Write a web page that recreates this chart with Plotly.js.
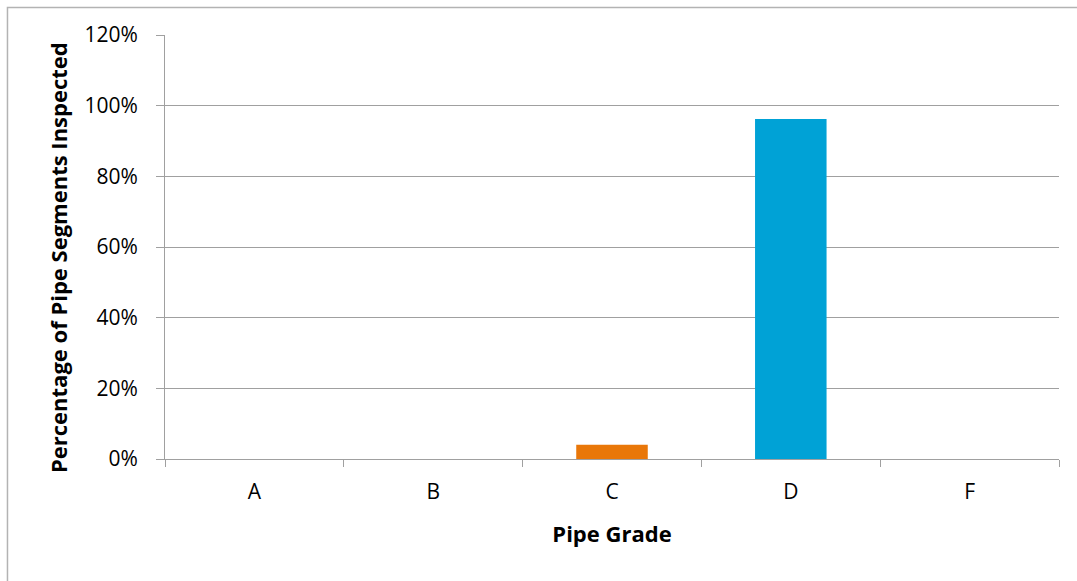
<!DOCTYPE html>
<html>
<head>
<meta charset="utf-8">
<script src="https://cdn.plot.ly/plotly-3.0.1.min.js"></script>
<style>html,body{margin:0;padding:0;background:#fff;}#chart{width:1077px;height:581px;}</style>
</head>
<body>
<div id="chart"></div>
<script>
const categories = ["A", "B", "C", "D", "F"];
const values = [0, 0, 0.04, 0.962, 0];
const barColors = ["#4472C4", "#A5A5A5", "#E97709", "#00A2D6", "#70AD47"];
const yTickVals = [0, 0.2, 0.4, 0.6, 0.8, 1.0, 1.2];
const yTickText = ["0%", "20%", "40%", "60%", "80%", "100%", "120%"];
const xTitle = "Pipe Grade";
const yTitle = "Percentage of Pipe Segments Inspected";

const FONT = "Open Sans, Lato, sans-serif";
const trace = {
  type: "bar",
  x: categories,
  y: values,
  marker: {color: barColors},
  width: 0.4,
  hoverinfo: "x+y"
};
const layout = {
  width: 1077, height: 581,
  margin: {l: 165, r: 18, t: 35, b: 122},
  paper_bgcolor: "#fff", plot_bgcolor: "#fff",
  showlegend: false,
  font: {family: FONT, size: 22, color: "#000"},
  xaxis: {
    type: "category",
    tickson: "boundaries",
    ticks: "outside", ticklen: 7, tickcolor: "#A0A0A0", tickwidth: 1,
    showline: true, linecolor: "#A0A0A0", linewidth: 1,
    showgrid: false, zeroline: false,
    ticklabelstandoff: 14,
    tickfont: {family: FONT, size: 21},
    title: {text: xTitle, font: {family: FONT, size: 22, weight: "bold"}, standoff: 22}
  },
  yaxis: {
    range: [0, 1.2],
    tickvals: yTickVals, ticktext: yTickText,
    ticks: "outside", ticklen: 8, tickcolor: "#A0A0A0", tickwidth: 1,
    showline: true, linecolor: "#A0A0A0", linewidth: 1,
    showgrid: true, gridcolor: "#A0A0A0", gridwidth: 1,
    zeroline: false,
    ticklabelstandoff: 14,
    tickfont: {family: FONT, size: 21}
  },
  annotations: [{
    text: yTitle, xref: "paper", yref: "paper",
    x: (58 - 165) / 894, y: (459 - 258) / 424,
    xanchor: "center", yanchor: "middle", textangle: -90, showarrow: false,
    font: {family: FONT, size: 22, weight: "bold", color: "#000"}
  }],
  shapes: [{
    type: "rect", xref: "paper", yref: "paper",
    x0: -0.1762, x1: 1.03, y0: -0.31, y1: 1.0649,
    line: {color: "#B3B3B3", width: 1.5}, fillcolor: "rgba(0,0,0,0)", layer: "below"
  }]
};
Plotly.newPlot("chart", [trace], layout, {displayModeBar: false, staticPlot: true});
</script>
</body>
</html>
